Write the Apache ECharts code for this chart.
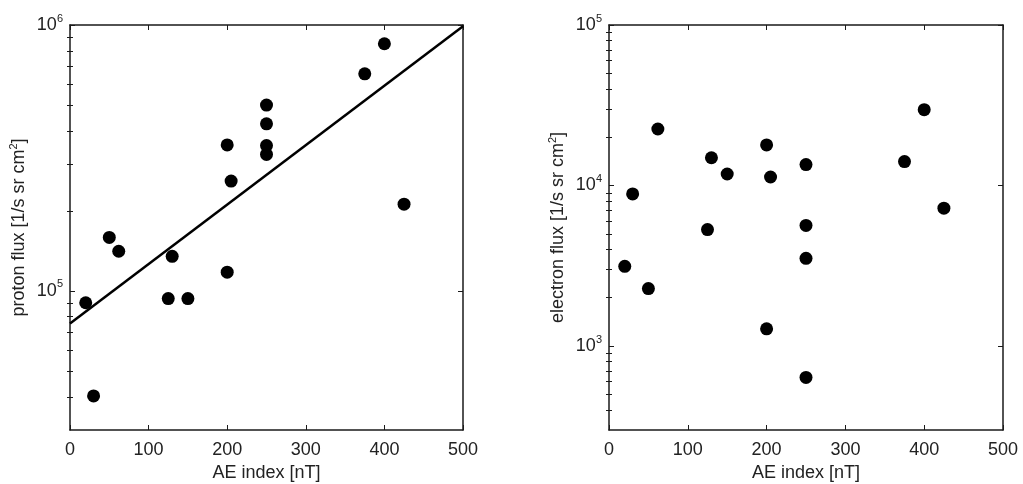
<!DOCTYPE html>
<html>
<head>
<meta charset="utf-8">
<script src="https://cdn.jsdelivr.net/npm/echarts@6/dist/echarts.min.js"></script>
<style>
html,body{margin:0;padding:0;background:#fff;}
#chart{width:1023px;height:484px;}
</style>
</head>
<body>
<div id="chart"></div>
<script>
// ---- data ----
const protonAE   = [20, 30, 50, 62, 125, 130, 150, 200, 200, 205, 250, 250, 250, 250, 375, 400, 425];
const protonFlux = [90300, 40300, 159000, 141000, 93600, 135000, 93600, 117600, 354000, 259000, 500000, 425000, 352000, 326000, 655000, 850000, 212000];
const fitAE      = [0, 500];
const fitFlux    = [75500, 990000];
const electronAE   = [20, 30, 50, 62, 125, 130, 150, 200, 200, 205, 250, 250, 250, 250, 375, 400, 425];
const electronFlux = [3140, 8870, 2280, 22500, 5320, 14900, 11800, 17900, 1280, 11300, 13500, 5640, 3520, 638, 14100, 29700, 7230];
const xTicks = [0, 100, 200, 300, 400, 500];
const protonMajor = [1e5, 1e6];
const protonMinor = [4e4, 5e4, 6e4, 7e4, 8e4, 9e4, 2e5, 3e5, 4e5, 5e5, 6e5, 7e5, 8e5, 9e5];
const electronMajor = [1e3, 1e4, 1e5];
const electronMinor = [400, 500, 600, 700, 800, 900, 2e3, 3e3, 4e3, 5e3, 6e3, 7e3, 8e3, 9e3, 2e4, 3e4, 4e4, 5e4, 6e4, 7e4, 8e4, 9e4];

const FONT = 'Liberation Sans, Arial, Helvetica, sans-serif';
const TXT = '#222';
const LINE = '#1a1a1a';
const FS = 18;

function pair(xs, ys){ return xs.map((x,i)=>[x, ys[i]]); }

const grids = [
  {left:70, top:25, width:393, height:405, outerBoundsMode:'none', containLabel:false},
  {left:609, top:25, width:394, height:405, outerBoundsMode:'none', containLabel:false}
];

function xAxes(gi){
  const base = {
    type:'value', gridIndex:gi, min:0, max:500, interval:100,
    splitLine:{show:false},
    axisLine:{show:true, onZero:false, lineStyle:{color:LINE, width:1.5}},
    axisTick:{show:true, inside:true, length:5, customValues:xTicks, lineStyle:{color:LINE, width:1}}
  };
  return [
    Object.assign({}, base, {
      position:'bottom',
      axisLabel:{show:true, customValues:xTicks, color:TXT, fontFamily:FONT, fontSize:FS, margin:11},
      name:'AE index [nT]', nameLocation:'middle', nameGap:32,
      nameTextStyle:{color:TXT, fontFamily:FONT, fontSize:FS}
    }),
    Object.assign({}, base, {position:'top', axisLabel:{show:false}})
  ];
}

function supLabel(v){
  const e = Math.round(Math.log10(v));
  return '10{sup|' + e + '}';
}

function yAxes(gi, min, max, major, minor, name){
  const base = {
    type:'log', logBase:10, gridIndex:gi, min:min, max:max,
    splitLine:{show:false}, minorTick:{show:false}, minorSplitLine:{show:false}
  };
  const lineOn = {show:true, onZero:false, lineStyle:{color:LINE, width:1.5}};
  const lineOff = {show:false};
  return [
    Object.assign({}, base, {
      position:'left', axisLine:lineOn,
      axisTick:{show:true, inside:true, length:5, customValues:major, lineStyle:{color:LINE, width:1}},
      axisLabel:{show:true, customValues:major, formatter:supLabel, margin:7,
        color:TXT, fontFamily:FONT, fontSize:FS,
        rich:{sup:{fontSize:11, fontFamily:FONT, color:TXT, padding:[0,0,13,0]}}},
      name:name, nameLocation:'middle', nameGap:40, nameRotate:90,
      nameTextStyle:{color:TXT, fontFamily:FONT, fontSize:FS,
        rich:{sup:{fontSize:11, fontFamily:FONT, color:TXT, padding:[0,0,11,0]}}}
    }),
    Object.assign({}, base, {
      position:'left', axisLine:lineOff, axisLabel:{show:false},
      axisTick:{show:true, inside:true, length:3, customValues:minor, lineStyle:{color:LINE, width:1}}
    }),
    Object.assign({}, base, {
      position:'right', axisLine:lineOn, axisLabel:{show:false},
      axisTick:{show:true, inside:true, length:5, customValues:major, lineStyle:{color:LINE, width:1}}
    }),
    Object.assign({}, base, {
      position:'right', axisLine:lineOff, axisLabel:{show:false},
      axisTick:{show:true, inside:true, length:3, customValues:minor, lineStyle:{color:LINE, width:1}}
    })
  ];
}

const option = {
  animation:false,
  backgroundColor:'#fff',
  grid:grids,
  xAxis:[].concat(xAxes(0), xAxes(1)),
  yAxis:[].concat(
    yAxes(0, 3e4, 1e6, protonMajor, protonMinor, 'proton flux [1/s sr cm{sup|2}]'),
    yAxes(1, 300, 1e5, electronMajor, electronMinor, 'electron flux [1/s sr cm{sup|2}]')
  ),
  series:[
    {type:'line', xAxisIndex:0, yAxisIndex:0, data:pair(fitAE, fitFlux),
     symbol:'none', lineStyle:{color:'#000', width:2.5}, z:2},
    {type:'scatter', xAxisIndex:0, yAxisIndex:0, data:pair(protonAE, protonFlux),
     symbol:'circle', symbolSize:13, itemStyle:{color:'#000', opacity:1}, z:3},
    {type:'scatter', xAxisIndex:2, yAxisIndex:4, data:pair(electronAE, electronFlux),
     symbol:'circle', symbolSize:13, itemStyle:{color:'#000', opacity:1}, z:3}
  ]
};

const chart = echarts.init(document.getElementById('chart'), null, {renderer:'canvas'});
chart.setOption(option);
</script>
</body>
</html>
